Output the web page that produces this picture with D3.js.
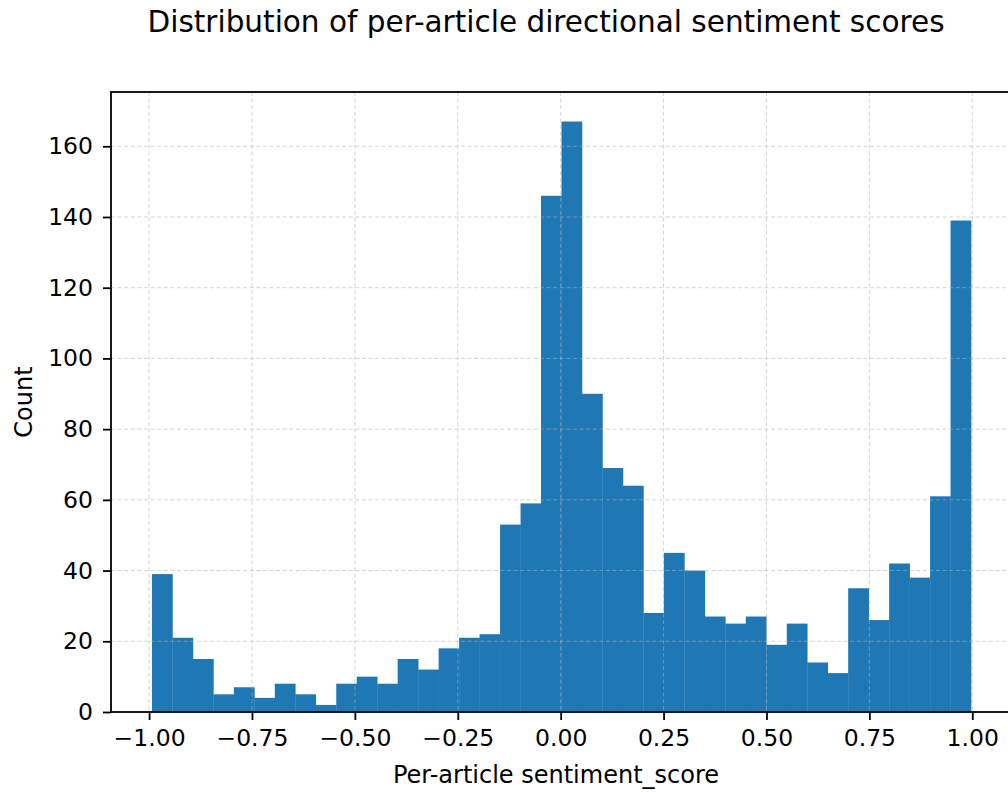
<!DOCTYPE html>
<html>
<head>
<meta charset="utf-8">
<script src="https://cdn.jsdelivr.net/npm/d3@7"></script>
<style>
  body { margin: 0; background: #fff; }
  svg { display: block; font-family: 'DejaVu Sans', sans-serif; }
</style>
</head>
<body>
<svg width="1008" height="793"></svg>
<script>
// histogram counts, 40 equal bins
const counts = [39, 21, 15, 5, 7, 4, 8, 5, 2, 8,
  10, 8, 15, 12, 18, 21, 22, 53, 59, 146,
  167, 90, 69, 64, 28, 45, 40, 27, 25, 27,
  19, 25, 14, 11, 35, 26, 42, 38, 61, 139];
const binStart = -0.993;
const binEnd = 0.997;
const xTicks = [-1, -0.75, -0.5, -0.25, 0, 0.25, 0.5, 0.75, 1];
const yTicks = [0, 20, 40, 60, 80, 100, 120, 140, 160];

const margin = { top: 92, left: 111 };
const width = 901;
const height = 620;

const svg = d3.select('svg');

// numpy-style bin edges
const binW = (binEnd - binStart) / counts.length;
const bins = counts.map((c, i) => ({ x0: binStart + i * binW, x1: binStart + (i + 1) * binW, count: c }));

const pad = (binEnd - binStart) * 0.05;
const x = d3.scaleLinear().domain([binStart - pad, binEnd + pad]).range([0, width]);
const y = d3.scaleLinear().domain([0, d3.max(counts) * 1.05]).range([height, 0]);

const g = svg.append('g').attr('transform', `translate(${margin.left}, ${margin.top})`);

// bars
g.append('g')
  .selectAll('rect')
  .data(bins)
  .join('rect')
  .attr('x', (d) => x(d.x0))
  .attr('width', (d) => x(d.x1) - x(d.x0) + 0.3)
  .attr('y', (d) => y(d.count))
  .attr('height', (d) => y(0) - y(d.count))
  .attr('fill', '#1f77b4');

// grid (drawn over bars, faint)
const grid = g.append('g').attr('stroke', '#b0b0b0').attr('stroke-opacity', 0.55)
  .attr('stroke-width', 1).attr('stroke-dasharray', '4,2.6');
grid.selectAll('.vg').data(xTicks).join('line')
  .attr('x1', (d) => x(d)).attr('x2', (d) => x(d))
  .attr('y1', 0).attr('y2', height);
grid.selectAll('.hg').data(yTicks).join('line')
  .attr('y1', (d) => y(d)).attr('y2', (d) => y(d))
  .attr('x1', 0).attr('x2', width);

const fmt = (d) => d3.format('.2f')(d).replace('-', '\u2212');

// axes
const xAxis = g.append('g')
  .attr('transform', `translate(0, ${height})`)
  .call(d3.axisBottom(x).tickValues(xTicks).tickFormat(fmt).tickSize(8).tickPadding(9).tickSizeOuter(0));
const yAxis = g.append('g')
  .call(d3.axisLeft(y).tickValues(yTicks).tickSize(8).tickPadding(10).tickSizeOuter(0));

[xAxis, yAxis].forEach((a) => {
  a.select('.domain').remove();
  a.selectAll('line').attr('stroke', '#000').attr('stroke-width', 1.8);
  a.selectAll('text').attr('fill', '#000').style('font-size', '23.5px')
    .style('font-family', "'DejaVu Sans', sans-serif");
});

// spines
g.append('rect')
  .attr('width', width).attr('height', height)
  .attr('fill', 'none').attr('stroke', '#000').attr('stroke-width', 1.8);

// title
svg.append('text')
  .attr('x', 546)
  .attr('y', 32)
  .attr('text-anchor', 'middle')
  .style('font-size', '29.5px')
  .text('Distribution of per-article directional sentiment scores');

// x label
svg.append('text')
  .attr('x', 556)
  .attr('y', 783)
  .attr('text-anchor', 'middle')
  .style('font-size', '24px')
  .text('Per-article sentiment_score');

// y label
svg.append('text')
  .attr('transform', `translate(32, ${margin.top + height / 2}) rotate(-90)`)
  .attr('text-anchor', 'middle')
  .style('font-size', '24px')
  .text('Count');
</script>
</body>
</html>
